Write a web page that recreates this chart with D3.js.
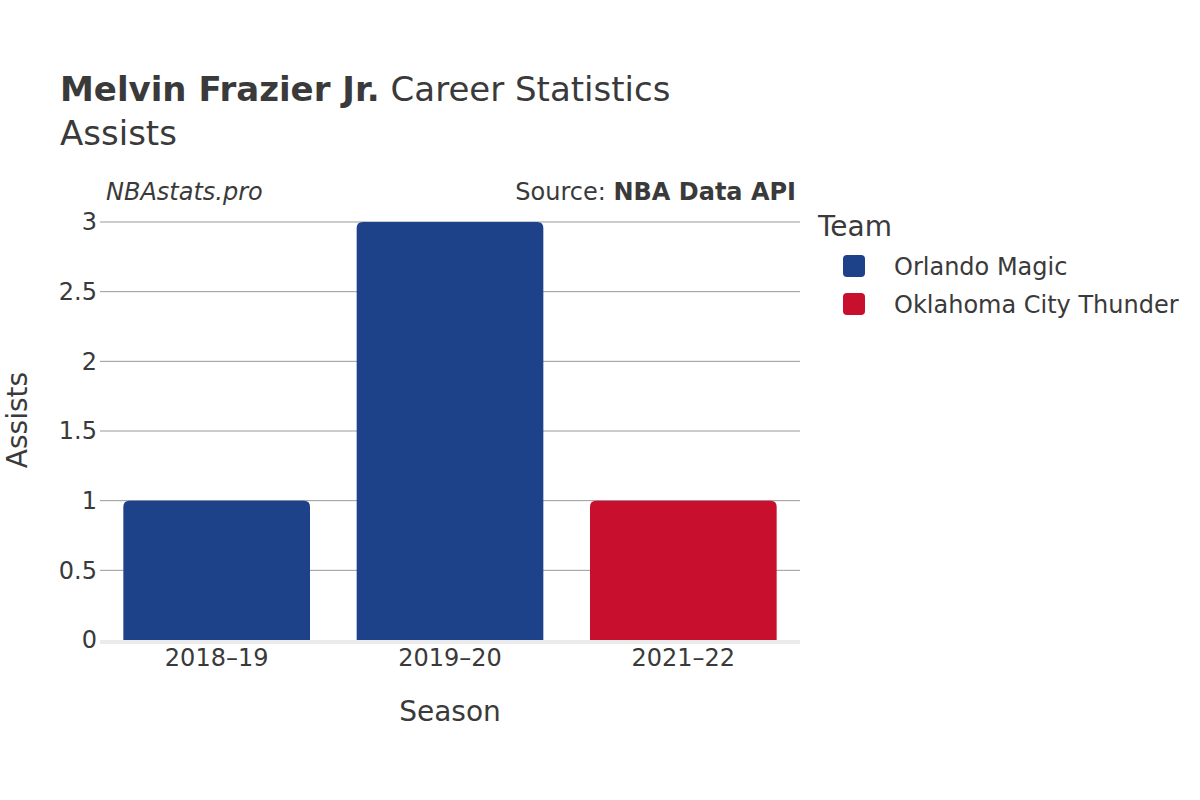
<!DOCTYPE html>
<html>
<head>
<meta charset="utf-8">
<script src="https://cdn.jsdelivr.net/npm/d3@7"></script>
<style>
  body { margin: 0; background: #fff; }
  text { font-family: "DejaVu Sans", sans-serif; fill: #3a3a3a; }
</style>
</head>
<body>
<script>
var seasons = ["2018–19", "2019–20", "2021–22"];
var assists = [1, 3, 1];
var teams = ["Orlando Magic", "Orlando Magic", "Oklahoma City Thunder"];
var legendTeams = ["Orlando Magic", "Oklahoma City Thunder"];
var teamColors = ["#1d428a", "#c8102e"];
var yTicks = [0, 0.5, 1, 1.5, 2, 2.5, 3];

var width = 1200, height = 800;
var margin = {top: 222, right: 400, bottom: 160, left: 100};

var svg = d3.select("body").append("svg")
    .attr("width", width)
    .attr("height", height);

var x = d3.scaleBand()
    .domain(seasons)
    .range([margin.left, width - margin.right])
    .paddingInner(0.2)
    .paddingOuter(0.1);

var y = d3.scaleLinear()
    .domain([0, 3])
    .range([height - margin.bottom, margin.top]);

var color = d3.scaleOrdinal()
    .domain(legendTeams)
    .range(teamColors);

// title
var title = svg.append("text")
    .attr("x", 60)
    .attr("y", 101)
    .style("font-size", "34px");
title.append("tspan").style("font-weight", "bold").text("Melvin Frazier Jr.");
title.append("tspan").text(" Career Statistics");

svg.append("text")
    .attr("x", 60)
    .attr("y", 145)
    .style("font-size", "34px")
    .text("Assists");

svg.append("text")
    .attr("x", 106)
    .attr("y", 200)
    .style("font-size", "24px")
    .style("font-style", "italic")
    .text("NBAstats.pro");

var src = svg.append("text")
    .attr("x", 796)
    .attr("y", 200)
    .attr("text-anchor", "end")
    .style("font-size", "24px");
src.append("tspan").text("Source: ");
src.append("tspan").style("font-weight", "bold").text("NBA Data API");

// grid lines
svg.append("g")
    .selectAll("line")
    .data(yTicks.slice(1))
    .enter().append("line")
    .attr("x1", margin.left)
    .attr("x2", width - margin.right)
    .attr("y1", function(d) { return y(d); })
    .attr("y2", function(d) { return y(d); })
    .attr("stroke", "#999")
    .attr("stroke-width", 1);

// baseline
svg.append("line")
    .attr("x1", margin.left)
    .attr("x2", width - margin.right)
    .attr("y1", y(0) + 2)
    .attr("y2", y(0) + 2)
    .attr("stroke", "#ebebeb")
    .attr("stroke-width", 4);

// bars with rounded top corners
function barPath(x0, y0, w, h, r) {
    r = Math.min(r, h, w / 2);
    return "M" + x0 + "," + (y0 + h) +
        "V" + (y0 + r) +
        "Q" + x0 + "," + y0 + " " + (x0 + r) + "," + y0 +
        "H" + (x0 + w - r) +
        "Q" + (x0 + w) + "," + y0 + " " + (x0 + w) + "," + (y0 + r) +
        "V" + (y0 + h) + "Z";
}

svg.append("g")
    .selectAll("path")
    .data(seasons)
    .enter().append("path")
    .attr("d", function(d, i) {
        return barPath(x(d), y(assists[i]), x.bandwidth(), y(0) - y(assists[i]), 6);
    })
    .attr("fill", function(d, i) { return color(teams[i]); });

// y tick labels
svg.append("g")
    .selectAll("text")
    .data(yTicks)
    .enter().append("text")
    .attr("x", 97)
    .attr("y", function(d) { return y(d); })
    .attr("dy", "0.35em")
    .attr("text-anchor", "end")
    .style("font-size", "24px")
    .text(function(d) { return d; });

// x tick labels
svg.append("g")
    .selectAll("text")
    .data(seasons)
    .enter().append("text")
    .attr("x", function(d) { return x(d) + x.bandwidth() / 2; })
    .attr("y", 666)
    .attr("text-anchor", "middle")
    .style("font-size", "24px")
    .text(function(d) { return d; });

// axis titles
svg.append("text")
    .attr("x", (margin.left + width - margin.right) / 2)
    .attr("y", 721)
    .attr("text-anchor", "middle")
    .style("font-size", "28px")
    .text("Season");

svg.append("text")
    .attr("transform", "translate(27,420) rotate(-90)")
    .attr("text-anchor", "middle")
    .style("font-size", "28px")
    .text("Assists");

// legend
svg.append("text")
    .attr("x", 818)
    .attr("y", 236)
    .style("font-size", "28px")
    .text("Team");

var leg = svg.append("g")
    .selectAll("g")
    .data(legendTeams)
    .enter().append("g")
    .attr("transform", function(d, i) { return "translate(843," + (255 + i * 38) + ")"; });

leg.append("rect")
    .attr("width", 22)
    .attr("height", 22)
    .attr("rx", 4)
    .attr("fill", function(d) { return color(d); });

leg.append("text")
    .attr("x", 51)
    .attr("y", 12)
    .attr("dy", "0.35em")
    .style("font-size", "24px")
    .text(function(d) { return d; });
</script>
</body>
</html>
